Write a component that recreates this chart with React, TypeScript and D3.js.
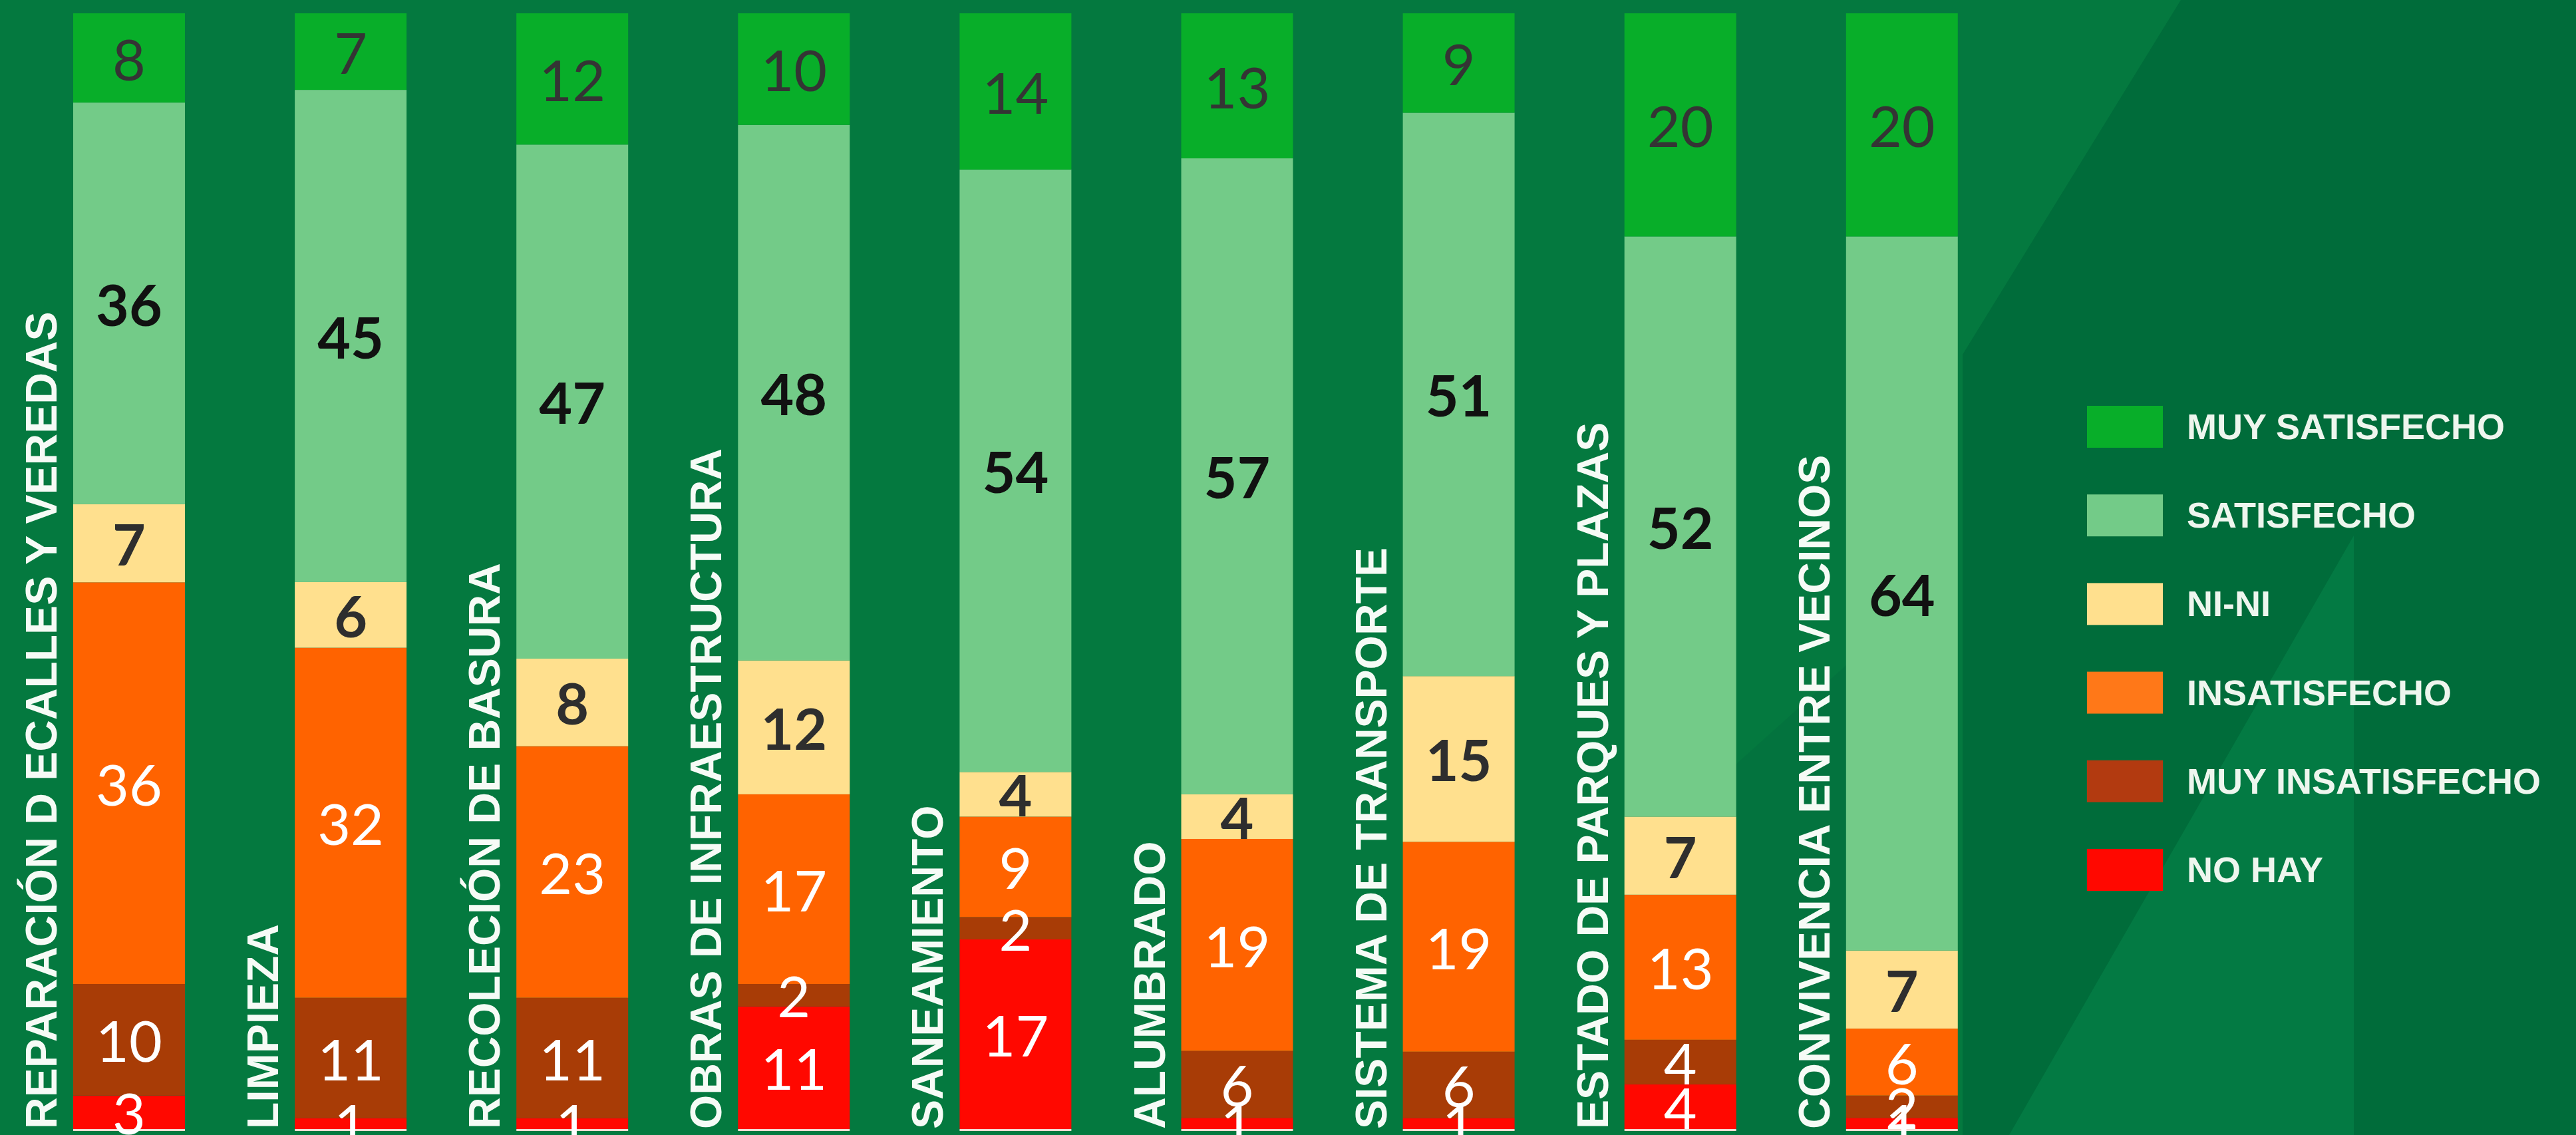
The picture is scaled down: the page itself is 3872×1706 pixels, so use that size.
import React, { useEffect } from "react";
import * as d3 from "d3";

const categories = [
  "REPARACIÓN D ECALLES Y VEREDAS",
  "LIMPIEZA",
  "RECOLECIÓN DE BASURA",
  "OBRAS DE INFRAESTRUCTURA",
  "SANEAMIENTO",
  "ALUMBRADO",
  "SISTEMA DE TRANSPORTE",
  "ESTADO DE PARQUES Y PLAZAS",
  "CONVIVENCIA ENTRE VECINOS",
];

// stacked bottom -> top
const seriesNames = ["NO HAY", "MUY INSATISFECHO", "INSATISFECHO", "NI-NI", "SATISFECHO", "MUY SATISFECHO"];
const noHay = [3, 1, 1, 11, 17, 1, 1, 4, 1];
const muyInsatisfecho = [10, 11, 11, 2, 2, 6, 6, 4, 2];
const insatisfecho = [36, 32, 23, 17, 9, 19, 19, 13, 6];
const niNi = [7, 6, 8, 12, 4, 4, 15, 7, 7];
const satisfecho = [36, 45, 47, 48, 54, 57, 51, 52, 64];
const muySatisfecho = [8, 7, 12, 10, 14, 13, 9, 20, 20];

const legendOrder = ["MUY SATISFECHO", "SATISFECHO", "NI-NI", "INSATISFECHO", "MUY INSATISFECHO", "NO HAY"];

const W = 3872;
const H = 1706;

const colors: Record<string, string> = {
  "MUY SATISFECHO": "#08AE29",
  "SATISFECHO": "#73CB88",
  "NI-NI": "#FFE08E",
  "INSATISFECHO": "#FF6300",
  "MUY INSATISFECHO": "#A83C06",
  "NO HAY": "#FF0800",
};
const legendColors: Record<string, string> = {
  ...colors,
  "INSATISFECHO": "#FF7818",
  "MUY INSATISFECHO": "#B23A10",
};
const labelStyle: Record<string, { fill: string; weight: number }> = {
  "MUY SATISFECHO": { fill: "#343434", weight: 400 },
  "SATISFECHO": { fill: "#111111", weight: 700 },
  "NI-NI": { fill: "#2E2E2E", weight: 700 },
  "INSATISFECHO": { fill: "#FFFFFF", weight: 400 },
  "MUY INSATISFECHO": { fill: "#FFFFFF", weight: 400 },
  "NO HAY": { fill: "#FFFFFF", weight: 400 },
};

export default function App() {
  useEffect(() => {
    document.body.style.margin = "0";
    document.body.style.background = "#04783F";
  }, []);

  const valuesBySeries: Record<string, number[]> = {
    "NO HAY": noHay,
    "MUY INSATISFECHO": muyInsatisfecho,
    "INSATISFECHO": insatisfecho,
    "NI-NI": niNi,
    "SATISFECHO": satisfecho,
    "MUY SATISFECHO": muySatisfecho,
  };
  const rows = categories.map((c, i) => {
    const r: any = { category: c };
    seriesNames.forEach((s) => (r[s] = valuesBySeries[s][i]));
    return r;
  });
  const stacked = d3.stack<any>().keys(seriesNames).offset(d3.stackOffsetExpand)(rows);

  const pInner = 0.4957;
  const step = 333.1;
  const x = d3
    .scaleBand<string>()
    .domain(categories)
    .range([110, 110 + step * (categories.length - pInner)])
    .paddingInner(pInner)
    .paddingOuter(0);
  const y = d3.scaleLinear().domain([0, 1]).range([1697, 20]);

  const legendY = d3
    .scalePoint<string>()
    .domain(legendOrder)
    .range([641, 641 + 133.2 * 5]);

  return (
    <svg
      width={W}
      height={H}
      style={{ position: "absolute", left: 0, top: 0, display: "block" }}
      xmlns="http://www.w3.org/2000/svg"
    >
      <rect x={0} y={0} width={W} height={H} fill="#04793F" />
      {/* background shading */}
      <polygon points={`3278,0 ${W},0 ${W},${H} 2950,${H} 2950,533`} fill="#006C3A" />
      <polygon points={`3538,805 3538,${H} 3020,${H}`} fill="#037A43" />
      <polygon points={`2608,1150 2775,1000 2775,${H} 2608,${H}`} fill="#03733E" />

      {stacked.map((layer) => (
        <g key={layer.key}>
          {layer.map((d, i) => (
            <rect
              key={i}
              x={x(categories[i])}
              y={y(d[1])}
              width={x.bandwidth()}
              height={y(d[0]) - y(d[1])}
              fill={colors[layer.key]}
            />
          ))}
        </g>
      ))}

      {categories.map((c) => (
        <rect key={"base" + c} x={x(c)} y={y(0)} width={x.bandwidth()} height={3} fill="#F3DCD2" />
      ))}

      {stacked.map((layer) => (
        <g key={"lab" + layer.key}>
          {layer.map((d, i) => (
            <text
              key={i}
              x={(x(categories[i]) as number) + x.bandwidth() / 2}
              y={(y(d[0]) + y(d[1])) / 2}
              textAnchor="middle"
              dominantBaseline="central"
              fontFamily="Lato, 'Open Sans', sans-serif"
              fontSize={86}
              fontWeight={labelStyle[layer.key].weight}
              fill={labelStyle[layer.key].fill}
            >
              {valuesBySeries[layer.key][i]}
            </text>
          ))}
        </g>
      ))}

      {categories.map((c) => (
        <text
          key={"cat" + c}
          transform={`translate(${(x(c) as number) - 25},1697) rotate(-90)`}
          textAnchor="start"
          fontFamily="'Liberation Sans', Arial, sans-serif"
          fontWeight={700}
          fontSize={66}
          fill="#F6FBF6"
        >
          {c}
        </text>
      ))}

      {legendOrder.map((s) => (
        <g key={"leg" + s} transform={`translate(0,${legendY(s)})`}>
          <rect x={3137} y={-31} width={114} height={63} fill={legendColors[s]} />
          <text
            x={3287}
            y={0}
            dominantBaseline="central"
            fontFamily="'Liberation Sans', Arial, sans-serif"
            fontWeight={700}
            fontSize={54}
            fill="#EEF6EE"
          >
            {s}
          </text>
        </g>
      ))}
    </svg>
  );
}
